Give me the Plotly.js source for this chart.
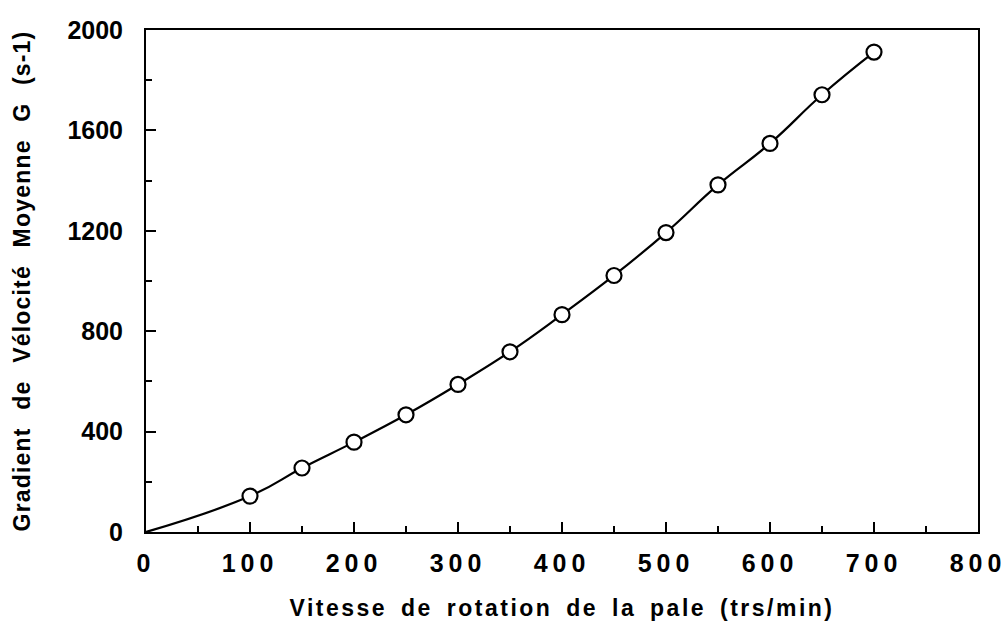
<!DOCTYPE html>
<html>
<head>
<meta charset="utf-8">
<script src="https://cdn.plot.ly/plotly-3.0.1.min.js"></script>
<style>
  html, body { margin: 0; padding: 0; background: #fff; }
  #chart { width: 1005px; height: 628px; }
  .xtick text { letter-spacing: 5px; }
  .xtitle { letter-spacing: 2.5px; word-spacing: 5px; }
  .ytitle { letter-spacing: 1.2px; word-spacing: 10px; }
</style>
</head>
<body>
<div id="chart"></div>
<script>
// Measured points: blade speed (rpm) vs mean velocity gradient G (s-1)
const speed = [100, 150, 200, 250, 300, 350, 400, 450, 500, 550, 600, 650, 700];
const gradient = [143, 255, 358, 467, 588, 718, 866, 1022, 1193, 1383, 1548, 1742, 1912];

// Fitted curve passes through origin and the measured points
const curveX = [0].concat(speed);
const curveY = [0].concat(gradient);

const xTickVals = [0, 100, 200, 300, 400, 500, 600, 700, 800];
const xTickText = ["0", "100", "200", "300", "400", "500", "600", "700", "800"];
const yTickVals = [0, 400, 800, 1200, 1600, 2000];
const yTickText = ["0", "400", "800", "1200", "1600", "2000"];

const fontFam = "Liberation Sans, Arial, Helvetica, sans-serif";

const traces = [
  {
    x: curveX, y: curveY,
    mode: "lines",
    line: {color: "#000", width: 2.2, shape: "spline", smoothing: 1.3},
    hoverinfo: "skip",
    showlegend: false
  },
  {
    x: speed, y: gradient,
    mode: "markers",
    marker: {symbol: "circle", size: 15, color: "#fff", line: {color: "#000", width: 2.2}},
    showlegend: false
  }
];

const layout = {
  width: 1005, height: 628,
  margin: {l: 146, r: 27, t: 30, b: 96},
  paper_bgcolor: "#fff", plot_bgcolor: "#fff",
  font: {family: fontFam, color: "#000", size: 22, weight: "bold"},
  showlegend: false,
  xaxis: {
    range: [0, 800],
    tickmode: "array", tickvals: xTickVals, ticktext: xTickText,
    ticks: "inside", ticklen: 10, tickwidth: 2, tickcolor: "#000",
    minor: {dtick: 50, ticks: "inside", ticklen: 6, tickwidth: 2, tickcolor: "#000", showgrid: false},
    showgrid: false, zeroline: false,
    showline: true, linecolor: "#000", linewidth: 2, mirror: true,
    ticklabelstandoff: 8,
    ticklabeloverflow: "allow",
    tickfont: {family: fontFam, size: 25, weight: "bold", color: "#000"},
    title: {text: "Vitesse de rotation de la pale (trs/min)", standoff: 24,
            font: {family: fontFam, size: 23, weight: "bold", color: "#000"}}
  },
  yaxis: {
    range: [0, 2000],
    tickmode: "array", tickvals: yTickVals, ticktext: yTickText,
    ticks: "inside", ticklen: 10, tickwidth: 2, tickcolor: "#000",
    minor: {dtick: 200, ticks: "inside", ticklen: 6, tickwidth: 2, tickcolor: "#000", showgrid: false},
    showgrid: false, zeroline: false,
    showline: true, linecolor: "#000", linewidth: 2, mirror: true,
    ticklabelstandoff: 16,
    ticklabeloverflow: "allow",
    tickfont: {family: fontFam, size: 25, weight: "bold", color: "#000"},
    title: {text: "Gradient de Vélocité Moyenne G (s-1)", standoff: 30,
            font: {family: fontFam, size: 23, weight: "bold", color: "#000"}}
  }
};

Plotly.newPlot("chart", traces, layout, {displayModeBar: false, staticPlot: true});
</script>
</body>
</html>
